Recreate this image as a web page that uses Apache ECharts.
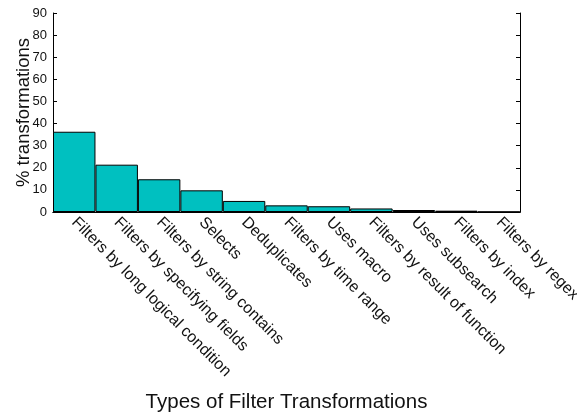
<!DOCTYPE html>
<html>
<head>
<meta charset="utf-8">
<script src="https://cdn.jsdelivr.net/npm/echarts@6/dist/echarts.min.js"></script>
<style>
html,body{margin:0;padding:0;background:#fff;}
#main{width:577px;height:412px;}
</style>
</head>
<body>
<div id="main"></div>
<script>
var categories = ['Filters by long logical condition','Filters by specifying fields','Filters by string contains',
    'Selects','Deduplicates','Filters by time range','Uses macro','Filters by result of function',
    'Uses subsearch','Filters by index','Filters by regex'];
var percents = [36.3, 21.4, 14.8, 9.8, 5.0, 3.0, 2.6, 1.6, 0.9, 0.6, 0.1];
var yTicks = [0, 10, 20, 30, 40, 50, 60, 70, 80, 90];

var font = 'Liberation Sans, Arial, Helvetica, sans-serif';
var myChart = echarts.init(document.getElementById('main'));
myChart.setOption({
    animation: false,
    grid: {left: 53, right: 57, top: 13, bottom: 200, containLabel: false, outerBoundsMode: 'none'},
    xAxis: [{
        type: 'category',
        data: categories,
        position: 'bottom',
        name: 'Types of Filter Transformations',
        nameLocation: 'middle',
        nameGap: 180,
        nameMoveOverlap: false,
        nameTextStyle: {fontFamily: font, fontSize: 20.5, color: '#111'},
        axisLine: {lineStyle: {color: '#000', width: 1}},
        axisTick: {inside: true, alignWithLabel: true, length: 4, lineStyle: {color: '#000'}},
        axisLabel: {rotate: -45, interval: 0, fontFamily: font, fontSize: 16, color: '#111', margin: 8}
    }, {
        type: 'category',
        data: categories,
        position: 'top',
        axisLine: {lineStyle: {color: '#000', width: 1}},
        axisTick: {inside: true, alignWithLabel: true, length: 4, lineStyle: {color: '#000'}},
        axisLabel: {show: false}
    }],
    yAxis: [{
        type: 'value',
        min: yTicks[0],
        max: yTicks[yTicks.length - 1],
        interval: 10,
        name: '% transformations',
        nameLocation: 'middle',
        nameGap: 20,
        nameMoveOverlap: false,
        nameTextStyle: {fontFamily: font, fontSize: 18.5, color: '#111'},
        axisLine: {show: true, lineStyle: {color: '#000', width: 1}},
        axisTick: {show: true, inside: true, length: 4, lineStyle: {color: '#000'}},
        axisLabel: {fontFamily: font, fontSize: 13, color: '#111', margin: 6},
        splitLine: {show: false}
    }, {
        type: 'value',
        position: 'right',
        min: yTicks[0],
        max: yTicks[yTicks.length - 1],
        interval: 10,
        axisLine: {show: true, lineStyle: {color: '#000', width: 1}},
        axisTick: {show: true, inside: true, length: 4, lineStyle: {color: '#000'}},
        axisLabel: {show: false},
        splitLine: {show: false}
    }],
    series: [{
        type: 'bar',
        data: percents,
        barCategoryGap: '0%',
        itemStyle: {color: '#00c0c0', borderColor: '#000', borderWidth: 1}
    }]
});
</script>
</body>
</html>
